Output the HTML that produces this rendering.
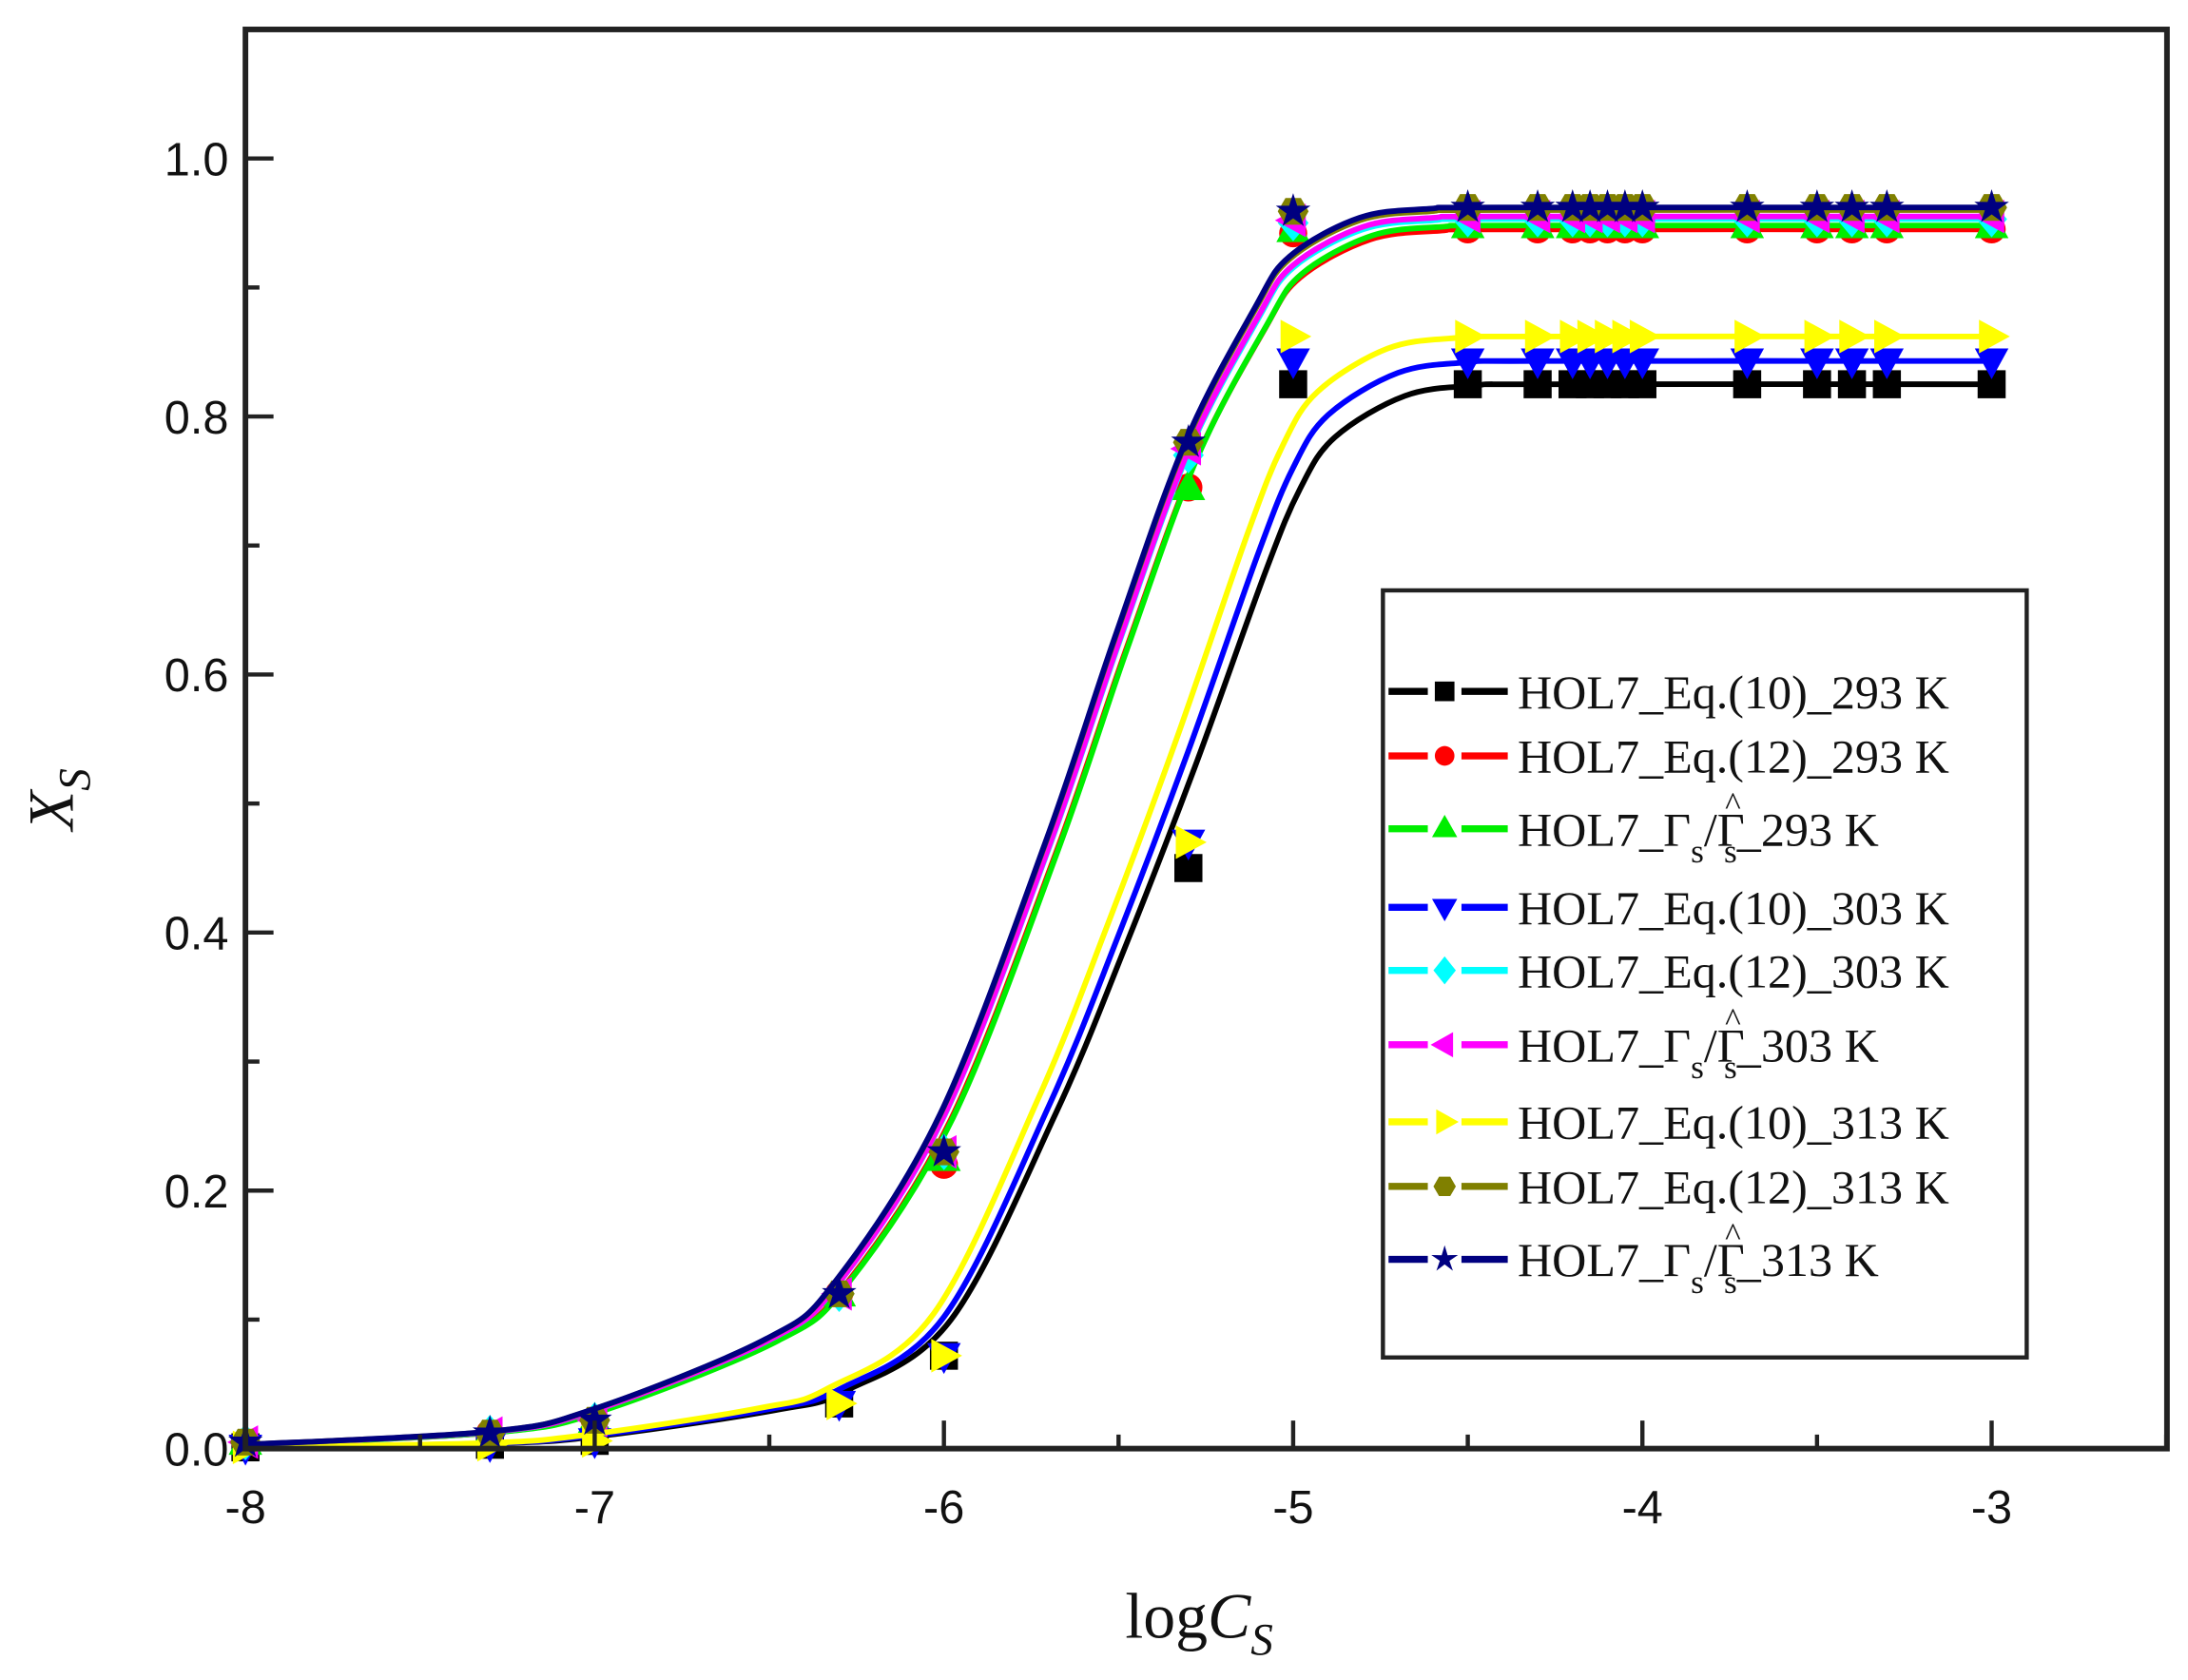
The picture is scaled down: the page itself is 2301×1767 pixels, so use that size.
<!DOCTYPE html>
<html><head><meta charset="utf-8"><style>
html,body{margin:0;padding:0;background:#fff;}
svg{display:block;}
</style></head><body>
<svg id="s" width="2301" height="1767" viewBox="0 0 1560 1198" preserveAspectRatio="none" xmlns="http://www.w3.org/2000/svg">
<rect width="1560" height="1198" fill="#fff"/>
<g id="plot"></g>
<rect x="175" y="21" width="1370" height="1012" fill="none" stroke="#222" stroke-width="4"/>
<g id="ticks" stroke="#222" stroke-width="3"></g>
<g font-family="Liberation Sans, sans-serif" font-size="33" fill="#111" id="lab"></g>
<text x="855" y="1168" text-anchor="middle" font-family="Liberation Serif, serif" font-size="46" fill="#111">log<tspan font-style="italic">C</tspan><tspan font-style="italic" font-size="32" dy="12">S</tspan></text>
<text transform="translate(52,570) rotate(-90)" text-anchor="middle" font-family="Liberation Serif, serif" font-size="46" fill="#111"><tspan font-style="italic">X</tspan><tspan font-style="italic" font-size="32" dy="12">S</tspan></text>
<rect x="986" y="421" width="459" height="547" fill="#fff" stroke="#222" stroke-width="3"/>
<g id="leg"></g>
</svg>
<script>
const NS="http://www.w3.org/2000/svg";
const X=x=>175+(x+8)*249, Y=y=>1033-y*920;
function el(t,a,p){const e=document.createElementNS(NS,t);for(const k in a)e.setAttribute(k,a[k]);(p||document.getElementById('plot')).appendChild(e);return e;}
const tk=document.getElementById('ticks'),lab=document.getElementById('lab');
for(let i=0;i<=11;i++){const y=Y(i*0.1),L=i%2==0?20:10;el('line',{x1:175,y1:y,x2:175+L,y2:y},tk);
 if(i%2==0&&i<=10){const t=el('text',{x:163,y:y+12,'text-anchor':'end'},lab);t.textContent=(i/10).toFixed(1);}}
for(let i=0;i<=11;i++){const xv=-8+i*0.5,x=X(xv),L=i%2==0?20:10;el('line',{x1:x,y1:1033,x2:x,y2:1033-L},tk);
 if(i%2==0){const t=el('text',{x:x,y:1086,'text-anchor':'middle'},lab);t.textContent=String(xv);}}
const A=[[-8,.003],[-7.3,.013],[-7,.03],[-6.5,.085],[-6.3,.13],[-6,.26],[-5.7,.47],[-5.5,.63],[-5.3,.78],[-5.1,.885],[-5,.925],[-4.8,.955],[-4.6,.962],[-4.4,.963],[-3,.963]];
const B=[[-8,.001],[-7.3,.004],[-7,.01],[-6.5,.03],[-6.3,.045],[-6,.1],[-5.7,.26],[-5.5,.39],[-5.3,.53],[-5.1,.68],[-5,.745],[-4.9,.785],[-4.7,.817],[-4.5,.825],[-4.3,.826],[-3,.826]];
function curve(P,top,dx){const pts=P.map(p=>[X(p[0]+dx),Y(p[1]/P[P.length-1][1]*top)]);
 let d='M'+pts[0];for(let i=0;i<pts.length-1;i++){const p0=pts[Math.max(0,i-1)],p1=pts[i],p2=pts[i+1],p3=pts[Math.min(pts.length-1,i+2)];
 const c1=[p1[0]+(p2[0]-p0[0])/6,p1[1]+(p2[1]-p0[1])/6],c2=[p2[0]-(p3[0]-p1[0])/6,p2[1]-(p3[1]-p1[1])/6];d+=' C'+c1+' '+c2+' '+p2;}
 return d;}
const xs=[-8,-7.3,-7,-6.3,-6,-5.3,-5,-4.5,-4.3,-4.2,-4.15,-4.1,-4.05,-4,-3.7,-3.5,-3.4,-3.3,-3];
function dataA(top,v53,v6){return xs.map(x=>[x,x>=-5?(x==-5?top-0.003:top):x==-5.3?v53:x==-6?v6:x==-6.3?0.12:x==-7?0.022:x==-7.3?0.012:0.005]);}
function dataB(top,v53){return xs.map(x=>[x,x>=-5?top:x==-5.3?v53:x==-6?0.072:x==-6.3?0.035:x==-7?0.006:x==-7.3?0.003:0.001]);}
const S=[
 {c:'#000',m:'sq',cur:[B,.825,0.02],d:dataB(.825,.45)},
 {c:'#f00',m:'ci',cur:[A,.945,0.02],d:dataA(.945,.745,.22)},
 {c:'#0e0',m:'tu',cur:[A,.948,0.025],d:dataA(.948,.745,.225)},
 {c:'#00f',m:'td',cur:[B,.843,0.0],d:dataB(.843,.47)},
 {c:'#0ff',m:'di',cur:[A,.953,0.0],d:dataA(.953,.77,.23)},
 {c:'#f0f',m:'tl',cur:[A,.955,0.0],d:dataA(.955,.775,.23)},
 {c:'#ff0',m:'tr',cur:[B,.862,-0.03],d:dataB(.862,.47)},
 {c:'#808000',m:'hx',cur:[A,.96,-0.01],d:dataA(.962,.78,.23)},
 {c:'#000080',m:'st',cur:[A,.962,-0.01],d:dataA(.962,.78,.23)}];
function marker(m,x,y,c,p,r){r=r||11;let pts;
 if(m=='sq')return el('rect',{x:x-r+1,y:y-r+1,width:2*r-2,height:2*r-2,fill:c},p);
 if(m=='ci')return el('circle',{cx:x,cy:y,r:r-1,fill:c},p);
 const poly=a=>el('polygon',{points:a.map(q=>q.join(',')).join(' '),fill:c},p);
 if(m=='tu')return poly([[x,y-r-2],[x+r+1,y+r-2],[x-r-1,y+r-2]]);
 if(m=='td')return poly([[x,y+r+2],[x+r+1,y-r+2],[x-r-1,y-r+2]]);
 if(m=='tl')return poly([[x-r-2,y],[x+r-2,y-r-1],[x+r-2,y+r+1]]);
 if(m=='tr')return poly([[x+r+2,y],[x-r+2,y-r-1],[x-r+2,y+r+1]]);
 if(m=='di')return poly([[x,y-r-2],[x+r,y],[x,y+r+2],[x-r,y]]);
 if(m=='hx'){pts=[];for(let i=0;i<6;i++){const a=Math.PI/3*i;pts.push([x+r*Math.cos(a),y+r*Math.sin(a)]);}return poly(pts);}
 if(m=='st'){pts=[];for(let i=0;i<10;i++){const a=-Math.PI/2+Math.PI/5*i,rr=i%2?r*0.45:r+2;pts.push([x+rr*Math.cos(a),y+rr*Math.sin(a)]);}return poly(pts);}
}
const pl=document.getElementById('plot');
S.forEach(s=>{el('path',{d:curve(s.cur[0],s.cur[1],s.cur[2]),fill:'none',stroke:s.c,'stroke-width':4},pl);
 s.d.forEach(p=>marker(s.m,X(p[0]),Y(p[1]),s.c,pl));});
const lg=document.getElementById('leg');
const names=['HOL7_Eq.(10)_293 K','HOL7_Eq.(12)_293 K','G293','HOL7_Eq.(10)_303 K','HOL7_Eq.(12)_303 K','G303','HOL7_Eq.(10)_313 K','HOL7_Eq.(12)_313 K','G313'];
const ly=[493,539,591,647,692,745,800,846,898];
S.forEach((s,i)=>{const y=ly[i];
 el('line',{x1:990,y1:y,x2:1018,y2:y,stroke:s.c,'stroke-width':5},lg);
 el('line',{x1:1042,y1:y,x2:1075,y2:y,stroke:s.c,'stroke-width':5},lg);
 marker(s.m,1030,y,s.c,lg,8);
 const t=el('text',{x:1082,y:y+12,'font-family':'Liberation Serif, serif','font-size':34,fill:'#111'},lg);
 if(names[i][0]=='G'){const T=names[i].slice(1);
  t.innerHTML='HOL7_Γ<tspan font-size="24" dy="12">s</tspan><tspan dy="-12">/Γ</tspan><tspan font-size="24" dx="-14" dy="-22">^</tspan><tspan font-size="24" dx="-12" dy="34">s</tspan><tspan dy="-12">_'+T+' K</tspan>';}
 else t.textContent=names[i];});
</script>
</body></html>
